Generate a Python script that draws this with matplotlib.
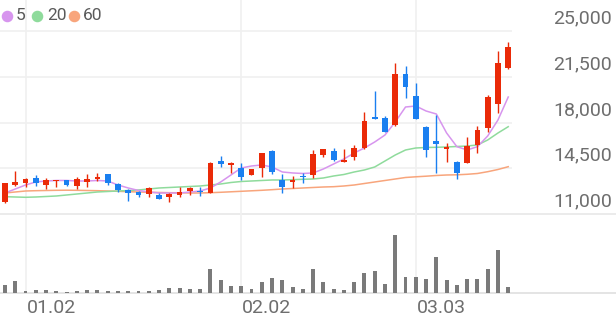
import numpy as np
import matplotlib
matplotlib.use("Agg")
import matplotlib.pyplot as plt
from matplotlib import transforms
from matplotlib.lines import Line2D

plt.rcParams['font.family'] = ['Roboto', 'DejaVu Sans']

# dados (50 pregoes)
opens = [11900, 13220, 13350, 13750, 13220, 13490, 13600, 13170, 13450, 13650,
         14040, 13300, 12840, 12660, 12530, 12450, 12280, 12450, 12780, 12780,
         12630, 15080, 14730, 14500, 13980, 14500, 15840, 13600, 13470, 13910,
         13980, 15510, 15840, 15000, 15340, 16030, 18440, 18320, 17810, 21710,
         20030, 17680, 16590, 15950, 15000, 14930, 16280, 17560, 19420, 22170]
highs = [13400, 14310, 13750, 13980, 13780, 13600, 13620, 13810, 14060, 14110,
         14060, 13350, 12910, 12760, 13090, 12580, 12580, 13090, 13040, 13090,
         14950, 15440, 15000, 14930, 14450, 15680, 15860, 14040, 13910, 14160,
         15900, 16000, 16030, 15970, 16280, 18830, 20430, 18500, 22530, 22320,
         21000, 17700, 18570, 16410, 15020, 16870, 17730, 20100, 23490, 24180]
lows = [11850, 13140, 13070, 13140, 12940, 13090, 13180, 12890, 13040, 13550,
        13220, 12710, 12000, 12280, 12280, 12120, 11900, 12320, 12450, 12380,
        12600, 14620, 14110, 13600, 13950, 13850, 14040, 12580, 12970, 13400,
        13730, 15380, 15080, 15000, 15130, 15950, 18240, 17280, 17730, 19850,
        18240, 15380, 14110, 15000, 13660, 14880, 15640, 17300, 18700, 22100]
closes = [13370, 13470, 13650, 13350, 13600, 13600, 13200, 13680, 13650, 13860,
          13400, 12840, 12610, 12450, 12970, 12150, 12530, 12710, 12970, 12710,
          14930, 14830, 14880, 13850, 14420, 15640, 14240, 13090, 13600, 13810,
          15570, 15950, 15130, 15130, 16070, 18120, 18250, 17300, 21690, 20740,
          18250, 15900, 16360, 16100, 14160, 16200, 17430, 19970, 22530, 23800]
volumes = [800, 1200, 230, 300, 300, 230, 130, 230, 300, 300,
           230, 230, 170, 230, 230, 300, 470, 470, 370, 400,
           2430, 1300, 700, 700, 430, 1100, 1530, 1270, 630, 380,
           2370, 1070, 370, 300, 1100, 2030, 2200, 900, 5770, 1630,
           1570, 1370, 3570, 1300, 800, 1370, 1400, 2370, 4300, 630]

ma5 = [12607, 12913, 13219, 13449, 13525, 13565, 13565, 13525, 13525, 13565,
       13525, 13219, 12990, 12800, 12683, 12607, 12607, 12607, 12683, 12760,
       12990, 13449, 13984, 14520, 14673, 14750, 14597, 14215, 14140, 14100,
       14140, 14443, 14826, 15208, 15667, 16050, 16509, 17044, 18038, 19186,
       19262, 18880, 18650, 17197, 16150, 15900, 16150, 16968, 18192, 19950]
ma20 = [12324, 12301, 12278, 12301, 12339, 12378, 12454, 12531, 12607, 12684,
        12722, 12760, 12798, 12837, 12913, 12990, 13028, 13066, 13105, 13143,
        13219, 13296, 13410, 13487, 13525, 13564, 13602, 13602, 13624, 13655,
        13678, 13755, 13908, 14023, 14214, 14368, 14597, 15055, 15514, 15897,
        16050, 16088, 16103, 16126, 16165, 16203, 16279, 16662, 17197, 17679]
ma60 = [12607, 12684, 12760, 12783, 12798, 12813, 12821, 12813, 12798, 12783,
        12760, 12737, 12706, 12684, 12661, 12646, 12630, 12623, 12607, 12607,
        12630, 12661, 12699, 12737, 12775, 12813, 12860, 12913, 12951, 12990,
        13028, 13066, 13089, 13143, 13219, 13334, 13449, 13564, 13678, 13793,
        13846, 13892, 13946, 13984, 13999, 14038, 14099, 14236, 14405, 14619]

date_idx = [2, 23, 40]
date_labels = ['01.02', '02.02', '03.03']
price_ticks = [11000, 14500, 18000, 21500, 25000]

# cores
RED = '#ea2a08'
BLUE = '#1a7ff0'
C5, C20, C60 = '#d795ee', '#8fdb9c', '#f8a57c'
GRID = '#f0f0f0'
TXT = '#6e6e6e'

W, H = 616, 321
fig = plt.figure(figsize=(W / 100, H / 100), dpi=100)

# eixo de precos: pixel 0..214 ; volume: 214..293
ax = fig.add_axes([0, 1 - 214 / H, 1, 214 / H])
axv = fig.add_axes([0, 1 - 293 / H, 1, 79 / H])

px = 10.27  # pixels por pregao
xlim = (-5 / px, (W - 5) / px)
for a in (ax, axv):
    a.set_xlim(*xlim)
    a.axis('off')
ax.set_ylim(11000, 25000 + 31 * 14000 / 183)
axv.set_ylim(0, 7900)

x = np.arange(len(closes))
grid_end = (512 - 5) / px

# grade
for p in price_ticks[1:]:
    ax.hlines(p, xlim[0], grid_end, color=GRID, lw=1.2, zorder=0)
ax.hlines(price_ticks[0], xlim[0], xlim[1], color='#e8e8e8', lw=1.2, zorder=0, clip_on=False)
for d in date_idx:
    ax.axvline(d, color=GRID, lw=1.2, zorder=0)
    axv.axvline(d, color=GRID, lw=1.2, zorder=0)
axv.hlines(0, xlim[0], xlim[1], color='#e4e4e4', lw=1.4, zorder=0, clip_on=False)

# medias moveis
ax.plot(x, ma60, color=C60, lw=1.1, zorder=1)
ax.plot(x, ma20, color=C20, lw=1.1, zorder=1)
ax.plot(x, ma5, color=C5, lw=1.1, zorder=1)

# candles
for i in range(len(closes)):
    o, h, l, c = opens[i], highs[i], lows[i], closes[i]
    col = RED if c >= o else BLUE
    ax.vlines(i, l, h, color=col, lw=1.0, zorder=2)
    body = max(abs(c - o), 80)
    ax.bar(i, body, bottom=min(o, c), width=0.56, color=col, zorder=3, linewidth=0)

# volume
axv.bar(x, volumes, width=0.38, color='#7a7a7a', zorder=2, linewidth=0)

# rotulos de preco (acima da linha)
off = transforms.offset_copy(ax.get_yaxis_transform(), fig=fig, x=0, y=12.5, units='dots')
for p in price_ticks:
    ax.text(612 / W, p, f'{p:,}', transform=off, ha='right', va='center',
            fontsize=14, color=TXT)

# datas
for d, lab in zip(date_idx, date_labels):
    fig.text((5 + d * px + 1) / W, 1 - 308 / H, lab, ha='left', va='center',
             fontsize=14, color=TXT)

# legenda
leg = [(6.7, C5, 16, '5'), (37, C20, 47, '20'), (74, C60, 83, '60')]
for cx, col, tx, lab in leg:
    fig.add_artist(Line2D([cx / W], [1 - 15.7 / H], marker='o', markersize=7.3,
                          color=col, linestyle='none', transform=fig.transFigure))
    fig.text(tx / W, 1 - 15.7 / H, lab, ha='left', va='center', fontsize=12.5, color='#5a5a5a')

fig.savefig('out.png', dpi=100)
